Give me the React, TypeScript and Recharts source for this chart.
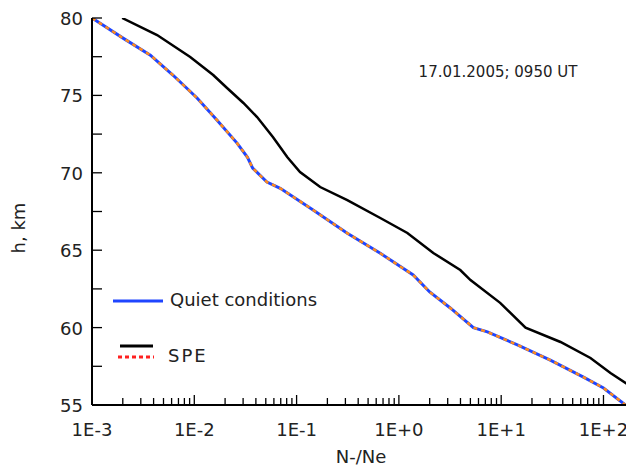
import React from 'react';
import { LineChart, Line, XAxis, YAxis } from 'recharts';

// N-/Ne ratio vs height
const quietRatio = [0.001, 0.00201, 0.00372, 0.00621, 0.01064, 0.0167, 0.0263, 0.0331, 0.0372, 0.0513, 0.0692, 0.145, 0.313, 0.658, 1.38, 2.0, 3.18, 5.35, 7.33, 14.4, 30.2, 63.7, 100, 164];
const quietHeight = [80, 78.7, 77.6, 76.3, 74.83, 73.4, 71.9, 71.0, 70.3, 69.4, 69.0, 67.6, 66.1, 64.8, 63.4, 62.3, 61.27, 60.0, 59.72, 58.88, 57.9, 56.8, 56.1, 55.0];

const speRatio = [0.00197, 0.00433, 0.00912, 0.0153, 0.0209, 0.0302, 0.0411, 0.0589, 0.0813, 0.108, 0.17, 0.313, 0.658, 1.21, 2.17, 3.98, 5.01, 9.77, 17.3, 38.0, 74.6, 117, 190];
const speHeight = [80, 78.9, 77.48, 76.32, 75.48, 74.51, 73.6, 72.3, 71.0, 70.05, 69.08, 68.24, 67.08, 66.11, 64.82, 63.72, 63.07, 61.6, 60.0, 59.07, 58.04, 57.07, 56.15];

const majorTicks = [0.001, 0.01, 0.1, 1, 10, 100];
const majorLabels = ['1E-3', '1E-2', '1E-1', '1E+0', '1E+1', '1E+2'];
const minorSteps = [2, 3, 4, 5, 6, 7, 8, 9];
const yMajor = [55, 60, 65, 70, 75, 80];
const yMinor = [57.5, 62.5, 67.5, 72.5, 77.5];

const quietData = quietRatio.map((r, i) => ({ r, h: quietHeight[i] }));
const speData = speRatio.map((r, i) => ({ r, h: speHeight[i] }));

const xTicks = [
  ...majorTicks,
  ...majorTicks.flatMap((m) => minorSteps.map((s) => m * s)).filter((v) => v < 190),
].sort((a, b) => a - b);
const yTicks = [...yMajor, ...yMinor].sort((a, b) => a - b);

const FONT = '"DejaVu Sans", Verdana, sans-serif';
const TXT = '#222';

const BottomTick = (props: any) => {
  const { x, y, payload } = props;
  const idx = majorTicks.indexOf(payload.value);
  const major = idx >= 0;
  return (
    <g>
      <line x1={x} x2={x} y1={y} y2={y - (major ? 10 : 7)} stroke="#000" strokeWidth={1.3} />
      {major && (
        <text x={x} y={y + 31} textAnchor="middle" fontSize={18} fontFamily={FONT} fill={TXT}>
          {majorLabels[idx]}
        </text>
      )}
    </g>
  );
};

const TopTick = (props: any) => {
  const { x, y, payload } = props;
  const major = majorTicks.indexOf(payload.value) >= 0;
  return <line x1={x} x2={x} y1={y} y2={y + (major ? 10 : 7)} stroke="#000" strokeWidth={1.3} />;
};

const LeftTick = (props: any) => {
  const { x, y, payload } = props;
  const major = yMajor.indexOf(payload.value) >= 0;
  return (
    <g>
      <line x1={x} x2={x + 10} y1={y} y2={y} stroke="#000" strokeWidth={1.3} />
      {major && (
        <text x={x - 9} y={y + 7} textAnchor="end" fontSize={18} fontFamily={FONT} fill={TXT}>
          {payload.value}
        </text>
      )}
    </g>
  );
};

const RightTick = (props: any) => {
  const { x, y } = props;
  return <line x1={x} x2={x - 10} y1={y} y2={y} stroke="#000" strokeWidth={1.3} />;
};

const App: React.FC = () => {
  return (
    <div style={{ width: 626, height: 460, background: '#fff' }}>
      <LineChart width={626} height={460} margin={{ top: 10, right: 2, left: 0, bottom: 0 }}>
        <XAxis
          xAxisId="bottom"
          dataKey="r"
          type="number"
          scale="log"
          domain={[0.001, 190]}
          allowDataOverflow
          ticks={xTicks}
          interval={0}
          tick={<BottomTick />}
          tickLine={false}
          tickSize={0}
          tickMargin={0}
          axisLine={{ stroke: '#000', strokeWidth: 2 }}
          height={63}
        />
        <XAxis
          xAxisId="top"
          orientation="top"
          dataKey="r"
          type="number"
          scale="log"
          domain={[0.001, 190]}
          allowDataOverflow
          ticks={xTicks}
          interval={0}
          tick={<TopTick />}
          tickLine={false}
          tickSize={0}
          tickMargin={0}
          axisLine={{ stroke: '#000', strokeWidth: 2 }}
          height={0}
        />
        <YAxis
          yAxisId="left"
          dataKey="h"
          type="number"
          domain={[55, 80]}
          allowDataOverflow
          ticks={yTicks}
          interval={0}
          tick={<LeftTick />}
          tickLine={false}
          tickSize={0}
          tickMargin={0}
          axisLine={{ stroke: '#000', strokeWidth: 2 }}
          width={84}
        />
        <YAxis
          yAxisId="right"
          orientation="right"
          dataKey="h"
          type="number"
          domain={[55, 80]}
          allowDataOverflow
          ticks={yTicks}
          interval={0}
          tick={<RightTick />}
          tickLine={false}
          tickSize={0}
          tickMargin={0}
          axisLine={{ stroke: '#000', strokeWidth: 2 }}
          width={0}
        />
        <Line
          xAxisId="bottom"
          yAxisId="left"
          data={speData}
          dataKey="h"
          type="linear"
          stroke="#000"
          strokeWidth={2.5}
          dot={false}
          isAnimationActive={false}
        />
        <Line
          xAxisId="bottom"
          yAxisId="left"
          data={quietData}
          dataKey="h"
          type="linear"
          stroke="#1f45ff"
          strokeWidth={3}
          dot={false}
          isAnimationActive={false}
        />
        <Line
          xAxisId="bottom"
          yAxisId="left"
          data={quietData}
          dataKey="h"
          type="linear"
          stroke="#ff8a1a"
          strokeWidth={2.5}
          strokeDasharray="4 4"
          dot={false}
          isAnimationActive={false}
        />
        <text x={490} y={69} textAnchor="middle" fontSize={15} fontFamily={FONT} fill={TXT}>
          17.01.2005; 0950 UT
        </text>
        <line x1={105} x2={155} y1={293} y2={293} stroke="#1f45ff" strokeWidth={3} />
        <text x={162} y={298} fontSize={18} fontFamily={FONT} fill={TXT}>
          Quiet conditions
        </text>
        <line x1={112} x2={145} y1={338} y2={338} stroke="#000" strokeWidth={3} />
        <line x1={110} x2={146} y1={349} y2={349} stroke="#ff2020" strokeWidth={3} strokeDasharray="4 3" />
        <text x={160} y={354} fontSize={18} letterSpacing={2} fontFamily={FONT} fill={TXT}>
          SPE
        </text>
        <text x={353} y={455} textAnchor="middle" fontSize={18} fontFamily={FONT} fill={TXT}>
          N-/Ne
        </text>
        <text x={17} y={220} transform="rotate(-90 17 220)" textAnchor="middle" fontSize={18} fontFamily={FONT} fill={TXT}>
          h, km
        </text>
      </LineChart>
    </div>
  );
};

export default App;
